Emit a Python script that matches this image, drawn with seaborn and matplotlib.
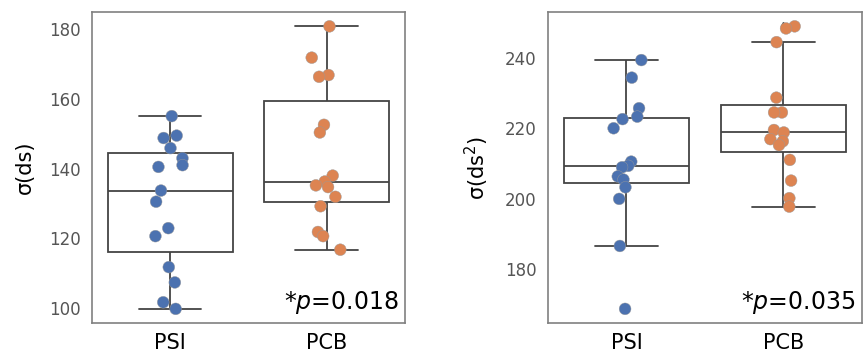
import numpy as np
import pandas as pd
import matplotlib
matplotlib.use("Agg")
import matplotlib.pyplot as plt
import seaborn as sns

groups = ["PSI", "PCB"]
psi_ds = [155.1, 149.5, 148.8, 145.9, 143.0, 141.0, 140.5, 133.7, 130.5, 122.9, 120.6, 111.7, 107.3, 101.6, 99.7]
pcb_ds = [180.9, 171.9, 166.9, 166.4, 152.6, 150.4, 138.0, 136.3, 135.2, 134.7, 131.9, 129.2, 121.8, 120.6, 116.7]
psi_ds2 = [239.4, 234.4, 225.7, 223.3, 222.6, 220.0, 210.5, 209.3, 208.9, 206.3, 205.4, 203.2, 199.9, 186.5, 168.6]
pcb_ds2 = [249.0, 248.4, 244.5, 228.7, 224.5, 224.5, 219.5, 218.8, 216.9, 216.3, 215.2, 211.0, 205.1, 200.1, 197.7]
ylabels = ["σ(ds)", "σ(ds$^2$)"]
pvals = ["*$p$=0.018", "*$p$=0.035"]

sns.set_style("white")
plt.rcParams["font.family"] = ["DejaVu Sans"]
np.random.seed(3)

fig = plt.figure(figsize=(8.67, 3.56), dpi=100)
ax1 = fig.add_axes([0.106, 0.0927, 0.361, 0.873])
ax2 = fig.add_axes([0.632, 0.0927, 0.362, 0.873])

palette = ["#4C72B0", "#DD8452"]
line_c = "#444444"

for ax, a, b, yl, pv in [(ax1, psi_ds, pcb_ds, ylabels[0], pvals[0]),
                         (ax2, psi_ds2, pcb_ds2, ylabels[1], pvals[1])]:
    df = pd.DataFrame({
        "group": [groups[0]] * len(a) + [groups[1]] * len(b),
        "value": a + b,
    })
    sns.boxplot(data=df, x="group", y="value", order=groups, ax=ax,
                color="white", linecolor=line_c, linewidth=1.3, width=0.8,
                flierprops=dict(marker="d", markersize=4,
                                markerfacecolor=line_c, markeredgecolor=line_c))
    sns.stripplot(data=df, x="group", y="value", order=groups, hue="group",
                  palette=palette, ax=ax, jitter=0.1, size=8.5,
                  edgecolor="#999999", linewidth=0.3, legend=False, zorder=5)
    ax.set_xlabel("")
    ax.set_ylabel(yl, fontsize=15, color="black", labelpad=10)
    ax.tick_params(axis="y", length=0, pad=8, labelsize=12, labelcolor="#555555")
    ax.tick_params(axis="x", length=0, pad=7, labelsize=15, labelcolor="black")
    for s in ax.spines.values():
        s.set_color("#808080")
        s.set_linewidth(1.2)
    ax.text(0.98, 0.022, pv, transform=ax.transAxes, ha="right", va="bottom",
            fontsize=17, color="black")

ax1.set_yticks([100, 120, 140, 160, 180])
ax2.set_yticks([180, 200, 220, 240])

fig.savefig("out.png", dpi=100)
